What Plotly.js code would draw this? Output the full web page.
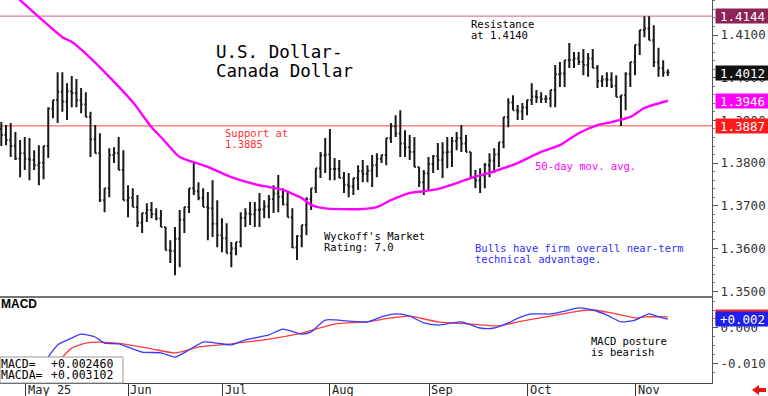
<!DOCTYPE html>
<html><head><meta charset="utf-8">
<script src="https://cdn.plot.ly/plotly-3.0.1.min.js"></script>
<style>html,body{margin:0;padding:0;background:#fff;}#chart{width:768px;height:396px;}</style>
</head><body><div id="chart"></div>
<script>
// ---- data ----
const openP = [1.3880,1.3866,1.3854,1.3840,1.3811,1.3823,1.3810,1.3807,1.3795,1.3801,
1.3840,1.3927,1.3948,1.3967,1.3944,1.3968,1.3964,1.3947,1.3937,1.3908,
1.3856,1.3823,1.3713,1.3741,1.3819,1.3823,1.3784,1.3713,1.3719,1.3697,
1.3660,1.3683,1.3690,1.3680,1.3670,1.3650,1.3596,1.3594,1.3623,1.3667,
1.3697,1.3741,1.3734,1.3719,1.3697,1.3694,1.3658,1.3631,1.3624,1.3589,
1.3600,1.3615,1.3672,1.3682,1.3680,1.3690,1.3692,1.3698,1.3716,1.3729,
1.3721,1.3703,1.3673,1.3602,1.3629,1.3655,1.3716,1.3741,1.3788,1.3818,
1.3820,1.3786,1.3786,1.3765,1.3749,1.3745,1.3765,1.3781,1.3775,1.3782,
1.3795,1.3810,1.3819,1.3859,1.3887,1.3869,1.3846,1.3837,1.3826,1.3791,
1.3755,1.3776,1.3798,1.3816,1.3807,1.3825,1.3826,1.3852,1.3858,1.3846,
1.3826,1.3765,1.3759,1.3771,1.3795,1.3806,1.3820,1.3849,1.3908,1.3942,
1.3924,1.3921,1.3930,1.3948,1.3956,1.3954,1.3950,1.3951,1.3971,1.4008,
1.4010,1.4041,1.4042,1.4045,1.4037,1.4030,1.4045,1.4023,1.3992,1.3996,
1.3995,1.3981,1.3955,1.3959,1.4008,1.4037,1.4077,1.4112,1.4115,1.4088,
1.4036,1.4022,1.4012];
const highP = [1.3896,1.3889,1.3894,1.3873,1.3854,1.3861,1.3859,1.3830,1.3842,1.3840,
1.3931,1.3948,1.4013,1.4013,1.3987,1.4004,1.3997,1.3976,1.3966,1.3920,
1.3889,1.3870,1.3741,1.3835,1.3837,1.3861,1.3830,1.3748,1.3741,1.3725,
1.3683,1.3706,1.3709,1.3694,1.3690,1.3650,1.3619,1.3650,1.3690,1.3697,
1.3741,1.3800,1.3755,1.3741,1.3732,1.3760,1.3713,1.3671,1.3659,1.3615,
1.3615,1.3685,1.3694,1.3709,1.3709,1.3730,1.3713,1.3725,1.3748,1.3772,
1.3741,1.3732,1.3694,1.3631,1.3655,1.3720,1.3741,1.3788,1.3826,1.3859,
1.3880,1.3812,1.3807,1.3779,1.3777,1.3765,1.3795,1.3807,1.3795,1.3819,
1.3823,1.3819,1.3859,1.3894,1.3912,1.3924,1.3877,1.3866,1.3861,1.3791,
1.3784,1.3814,1.3819,1.3847,1.3849,1.3861,1.3861,1.3873,1.3889,1.3866,
1.3826,1.3784,1.3788,1.3800,1.3823,1.3835,1.3849,1.3908,1.3952,1.3959,
1.3936,1.3941,1.3948,1.3987,1.3971,1.3966,1.3959,1.3971,1.4030,1.4037,
1.4041,1.4081,1.4060,1.4060,1.4067,1.4058,1.4067,1.4030,1.4006,1.4013,
1.4013,1.4006,1.3959,1.4013,1.4037,1.4077,1.4112,1.4144,1.4144,1.4123,
1.4070,1.4041,1.4020];
const lowP = [1.3840,1.3842,1.3814,1.3807,1.3767,1.3784,1.3760,1.3784,1.3748,1.3762,
1.3812,1.3905,1.3894,1.3920,1.3901,1.3931,1.3931,1.3917,1.3908,1.3814,
1.3823,1.3709,1.3685,1.3720,1.3800,1.3784,1.3713,1.3673,1.3697,1.3650,
1.3636,1.3662,1.3671,1.3666,1.3650,1.3596,1.3566,1.3537,1.3556,1.3636,
1.3683,1.3725,1.3713,1.3697,1.3619,1.3627,1.3603,1.3591,1.3589,1.3556,
1.3584,1.3603,1.3650,1.3655,1.3650,1.3650,1.3671,1.3671,1.3683,1.3685,
1.3701,1.3673,1.3601,1.3573,1.3603,1.3631,1.3690,1.3730,1.3765,1.3777,
1.3760,1.3760,1.3765,1.3730,1.3720,1.3725,1.3737,1.3755,1.3755,1.3744,
1.3767,1.3800,1.3795,1.3847,1.3861,1.3814,1.3814,1.3807,1.3791,1.3744,
1.3725,1.3737,1.3777,1.3784,1.3765,1.3788,1.3791,1.3830,1.3826,1.3826,
1.3765,1.3741,1.3730,1.3741,1.3767,1.3777,1.3791,1.3835,1.3884,1.3924,
1.3901,1.3901,1.3912,1.3936,1.3941,1.3941,1.3941,1.3931,1.3931,1.3978,
1.3978,1.4023,1.4023,1.4030,1.4006,1.4002,1.4023,1.3976,1.3978,1.3978,
1.3976,1.3955,1.3887,1.3924,1.3978,1.4006,1.4053,1.4095,1.4088,1.4025,
1.4002,1.4002,1.4004];
const closeP = [1.3866,1.3854,1.3840,1.3811,1.3823,1.3810,1.3807,1.3795,1.3801,1.3840,
1.3927,1.3948,1.3967,1.3944,1.3968,1.3964,1.3947,1.3937,1.3908,1.3856,
1.3823,1.3713,1.3741,1.3819,1.3823,1.3784,1.3713,1.3719,1.3697,1.3660,
1.3683,1.3690,1.3680,1.3670,1.3650,1.3596,1.3594,1.3623,1.3667,1.3697,
1.3741,1.3734,1.3719,1.3697,1.3694,1.3658,1.3631,1.3624,1.3589,1.3600,
1.3615,1.3672,1.3682,1.3680,1.3690,1.3692,1.3698,1.3716,1.3729,1.3721,
1.3703,1.3673,1.3602,1.3629,1.3655,1.3716,1.3741,1.3788,1.3818,1.3820,
1.3786,1.3786,1.3765,1.3749,1.3745,1.3765,1.3781,1.3775,1.3782,1.3795,
1.3810,1.3819,1.3859,1.3887,1.3869,1.3846,1.3837,1.3826,1.3791,1.3755,
1.3776,1.3798,1.3816,1.3807,1.3825,1.3826,1.3852,1.3858,1.3846,1.3826,
1.3765,1.3759,1.3771,1.3795,1.3806,1.3820,1.3849,1.3908,1.3942,1.3924,
1.3921,1.3930,1.3948,1.3956,1.3954,1.3950,1.3951,1.3971,1.4008,1.4010,
1.4041,1.4042,1.4045,1.4037,1.4030,1.4045,1.4023,1.3992,1.3996,1.3995,
1.3981,1.3955,1.3959,1.4008,1.4037,1.4077,1.4112,1.4115,1.4088,1.4036,
1.4022,1.4012,1.4012];

// 50-day moving average, read at these bar numbers
const maIdx = [0,4,8,13,15,19,23,28,32,34,38,41,44,49,55,57,60,64,66,69,76,80,83,87,90,93,97,100,104,107,110,115,119,123,127,130,134,137,142];
const maVal = [1.4222,1.4182,1.4142,1.4095,1.4084,1.4046,1.4002,1.3943,1.3884,1.3861,1.3814,1.3802,1.3791,1.3767,1.3748,1.3744,1.3737,1.3718,1.3702,1.3694,1.3692,1.3697,1.3713,1.3730,1.3734,1.3739,1.3753,1.3765,1.3777,1.3788,1.3800,1.3826,1.3842,1.3870,1.3889,1.3896,1.3908,1.3929,1.3946];

// MACD (blue) and MACDA (red), read at these bar numbers
const macdIdx = [10,12,15,17,20,22,25,27,30,34,37,40,43,46,49,52,57,60,64,66,69,74,78,81,84,87,90,93,98,102,105,108,110,113,117,120,123,126,129,132,135,138,140,142];
const macdVal = [-0.0080,-0.0047,-0.0028,-0.0017,-0.0025,-0.0042,-0.0044,-0.0053,-0.0067,-0.0069,-0.0081,-0.0061,-0.0039,-0.0042,-0.0047,-0.0033,-0.0019,-0.0003,-0.0017,-0.0011,0.0022,0.0019,0.0017,0.0031,0.0039,0.0033,0.0014,0.0008,0.0017,0.0000,0.0000,0.0014,0.0027,0.0039,0.0039,0.0047,0.0056,0.0050,0.0036,0.0017,0.0022,0.0039,0.0031,0.002460];
const sigIdx = [13,15,18,21,26,32,37,42,49,57,64,71,78,83,87,93,100,106,110,117,123,126,130,135,137,142];
const sigVal = [-0.0081,-0.0056,-0.0042,-0.0039,-0.0044,-0.0058,-0.0069,-0.0053,-0.0044,-0.0031,-0.0014,0.0011,0.0017,0.0028,0.0033,0.0017,0.0011,0.0006,0.0017,0.0033,0.0047,0.0050,0.0042,0.0028,0.0031,0.003102];

const monthLabels = ["May 25","Jun","Jul","Aug","Sep","Oct","Nov"];
const monthPos = [5.2,27.05,47.16,70.0,91.16,112.12,135.19];

const resistance = 1.4144;
const support = 1.3887;

// ---- build ----
const N = closeP.length;
const idx = closeP.map((_, i) => i);
const MONO = "DejaVu Sans Mono";
const W = 712, H = 383; // plot pixel size
const PX = x => x / W, PY = y => (H - y) / H;

function T(x, y, text, color, size, bold) {
  return {xref:'paper', yref:'paper', x:PX(x), y:PY(y), xanchor:'left', yanchor:'middle',
    text: bold ? '<b>'+text+'</b>' : text, showarrow:false, borderpad:0,
    font:{family: bold ? 'Liberation Sans' : MONO, size:size, color:color}};
}
function box(yref, val, text, bg) {
  return {xref:'paper', x:1, xanchor:'left', xshift:3, yref:yref, y:val, yanchor:'middle',
    text:text, showarrow:false, bgcolor:bg, width:51, height:12, borderpad:1, align:'center',
    font:{family:MONO, size:12.5, color:'#ffffff'}};
}
const fmt4 = v => v.toFixed(4);
const fmtS = v => (v >= 0 ? '+' : '') + v.toFixed(3);

const traces = [
  {type:'ohlc', x:idx, open:openP, high:highP, low:lowP, close:closeP, xaxis:'x', yaxis:'y',
   increasing:{line:{color:'#1a1a1a', width:2}}, decreasing:{line:{color:'#1a1a1a', width:2}},
   tickwidth:0.32, hoverinfo:'skip'},
  {type:'scatter', mode:'lines', x:maIdx, y:maVal, xaxis:'x', yaxis:'y',
   line:{color:'#ff00ff', width:2.4, shape:'spline', smoothing:0.6}, hoverinfo:'skip'},
  {type:'scatter', mode:'lines', x:sigIdx, y:sigVal, xaxis:'x', yaxis:'y2',
   line:{color:'#ff3b3b', width:1.3, shape:'spline', smoothing:0.6}, hoverinfo:'skip'},
  {type:'scatter', mode:'lines', x:macdIdx, y:macdVal, xaxis:'x', yaxis:'y2',
   line:{color:'#3a3aff', width:1.3, shape:'spline', smoothing:0.6}, hoverinfo:'skip'}
];

const lastClose = closeP[N-1], lastMA = maVal[maVal.length-1];
const lastMacd = macdVal[macdVal.length-1], lastSig = sigVal[sigVal.length-1];

const annotations = [
  T(215, 52, 'U.S. Dollar-', '#000', 17.5),
  T(215, 71, 'Canada Dollar', '#000', 17.5),
  T(470, 24, 'Resistance', '#000', 10.5),
  T(470, 35, 'at 1.4140', '#000', 10.5),
  T(224, 133, 'Support at', '#ff3030', 10.5),
  T(224, 144, '1.3885', '#ff3030', 10.5),
  T(323, 236, "Wyckoff's Market", '#000', 10.5),
  T(323, 247, 'Rating: 7.0', '#000', 10.5),
  T(534, 166, '50-day mov. avg.', '#ff00ff', 10.5),
  T(474, 248, 'Bulls have firm overall near-term', '#3030ff', 10.5),
  T(474, 259, 'technical advantage.', '#3030ff', 10.5),
  T(590, 341, 'MACD posture', '#000', 10.5),
  T(590, 352, 'is bearish', '#000', 10.5),
  T(0, 304, 'MACD', '#000', 12, true),
  T(0, 364, 'MACD=', '#000', 11.5),
  T(0, 375, 'MACDA=', '#000', 11.5),
  T(50, 364, '+' + lastMacd.toFixed(6), '#000', 11.5),
  T(50, 375, '+' + lastSig.toFixed(6), '#000', 11.5),
  box('y', resistance, fmt4(resistance), '#8c2456'),
  box('y', lastClose, fmt4(lastClose), '#111111'),
  box('y', lastMA, fmt4(lastMA), '#ff00ff'),
  box('y', support, fmt4(support), '#ff1a1a'),
  box('y2', lastSig, fmtS(lastSig), '#ff2020'),
  box('y2', lastMacd, fmtS(lastMacd), '#2020ee')
];
monthLabels.forEach((m, k) => {
  annotations.push({xref:'x', yref:'paper', x:monthPos[k], xanchor:'left', xshift:1,
    y:PY(390), yanchor:'middle', text:m, showarrow:false, borderpad:0,
    font:{family:MONO, size:12, color:'#222'}});
});

const shapes = [
  {type:'line', xref:'paper', x0:0, x1:1, yref:'y', y0:resistance, y1:resistance, layer:'below',
   line:{color:'#d77aa6', width:1.2}},
  {type:'line', xref:'paper', x0:0, x1:1, yref:'y', y0:support, y1:support, layer:'below',
   line:{color:'#ff6a6a', width:1.2}},
  {type:'line', xref:'paper', x0:0, x1:1, yref:'paper', y0:PY(297), y1:PY(297),
   line:{color:'#444', width:1.6}},
  {type:'rect', xref:'paper', yref:'paper', x0:0, x1:PX(123), y0:0, y1:PY(357), layer:'above',
   fillcolor:'#ffffff', line:{color:'#999', width:1}},
  {type:'path', xref:'paper', yref:'paper', fillcolor:'#ee1111', line:{width:0},
   path:`M ${PX(752)},${PY(390)} L ${PX(759)},${PY(385)} L ${PX(759)},${PY(388)} L ${PX(766)},${PY(388)} L ${PX(766)},${PY(392)} L ${PX(759)},${PY(392)} L ${PX(759)},${PY(395)} Z`}
];

const layout = {
  width:768, height:396, margin:{l:0, r:56, t:0, b:13},
  paper_bgcolor:'#ffffff', plot_bgcolor:'#ffffff', showlegend:false,
  xaxis:{domain:[0,1], range:[-0.28, 151.4], anchor:'y2', showgrid:false, zeroline:false,
    rangeslider:{visible:false},
    showline:true, linecolor:'#444', linewidth:1.2, tickvals:monthPos, ticks:'outside',
    ticklen:13, tickcolor:'#333', tickwidth:1, showticklabels:false, fixedrange:true},
  yaxis:{domain:[PY(297),1], range:[1.34863, 1.4182], side:'right', anchor:'x',
    showgrid:false, zeroline:false, showline:true, linecolor:'#555', linewidth:1,
    tick0:1.35, dtick:0.01, tickformat:'.4f', ticks:'outside', ticklen:5, tickcolor:'#555',
    tickfont:{family:MONO, size:12.5, color:'#333'},
    minor:{dtick:0.002, ticks:'outside', ticklen:2, tickcolor:'#777'}},
  yaxis2:{domain:[0,PY(297)], range:[-0.01528, 0.00861], side:'right', anchor:'x',
    showgrid:false, zeroline:false, showline:true, linecolor:'#555', linewidth:1,
    tickvals:[0,-0.01], ticktext:['0.000','-0.010'], ticks:'outside', ticklen:5, tickcolor:'#555',
    tickfont:{family:MONO, size:12.5, color:'#333'},
    minor:{tickvals:[-0.0125,-0.0075,-0.005,-0.0025,0.0025,0.005,0.0075], ticks:'outside', ticklen:2, tickcolor:'#777'}},
  annotations:annotations, shapes:shapes
};

Plotly.newPlot('chart', traces, layout, {staticPlot:true, displayModeBar:false});
</script></body></html>
